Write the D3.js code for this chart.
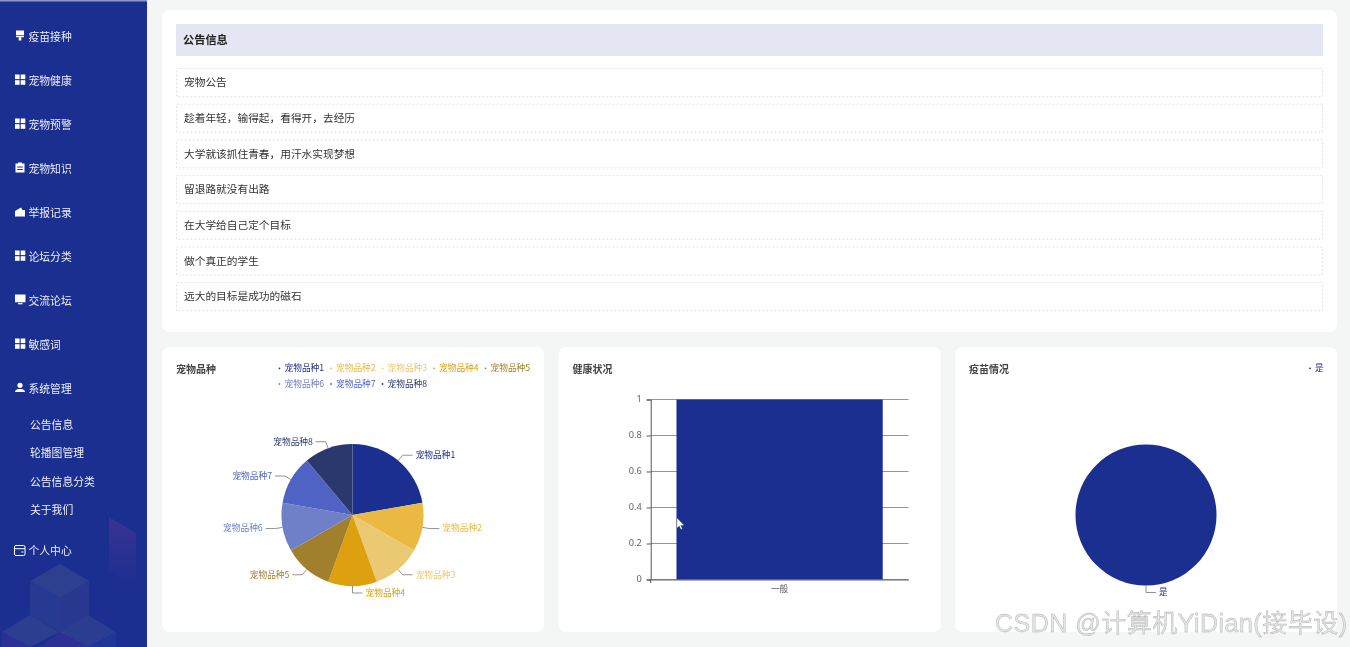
<!DOCTYPE html>
<html>
<head>
<meta charset="utf-8">
<script src="https://cdn.jsdelivr.net/npm/d3@7"></script>
<style>
html, body { margin: 0; padding: 0; background: #f4f6f6; overflow: hidden; }
svg { display: block; }
text { font-family: "Noto Sans CJK SC", "Noto Sans", sans-serif; }
</style>
</head>
<body>
<div id="page"></div>
<script>
// === DATA ===
const menuLabels = ["疫苗接种", "宠物健康", "宠物预警", "宠物知识", "举报记录", "论坛分类", "交流论坛", "敏感词", "系统管理"];
const menuIcons = ["brush", "grid", "grid", "clip", "wallet", "grid", "screen", "grid", "user"];
const subMenuLabels = ["公告信息", "轮播图管理", "公告信息分类", "关于我们"];
const noticeTitle = "公告信息";
const noticeRows = ["宠物公告", "趁着年轻，输得起，看得开，去经历", "大学就该抓住青春，用汗水实现梦想", "留退路就没有出路", "在大学给自己定个目标", "做个真正的学生", "远大的目标是成功的磁石"];

const breedNames = ["宠物品种1", "宠物品种2", "宠物品种3", "宠物品种4", "宠物品种5", "宠物品种6", "宠物品种7", "宠物品种8"];
const breedValues = [2, 1, 1, 1, 1, 1, 1, 1];
const breedColors = ["#1a2f90", "#ebb942", "#ebc973", "#dda00e", "#a27f2d", "#6f80c9", "#4f63c5", "#2b386d"];

const healthNames = ["一般"];
const healthValues = [1];
const healthTicks = [0, 0.2, 0.4, 0.6, 0.8, 1];

const vaccineNames = ["是"];
const vaccineValues = [1];

const W = 1350, H = 647;
const navy = "#1a2f90";

const svg = d3.select("#page").append("svg")
    .attr("width", W)
    .attr("height", H)
    .style("filter", "blur(0.4px)");

svg.append("rect").attr("width", W).attr("height", H).attr("fill", "#f4f6f6");

// === SIDEBAR ===
const defs = svg.append("defs");
const pillarGrad = defs.append("linearGradient")
    .attr("id", "pillar-grad")
    .attr("x1", 0).attr("y1", 0).attr("x2", 0).attr("y2", 1);
pillarGrad.append("stop").attr("offset", "0%").attr("stop-color", "#4f3596").attr("stop-opacity", 0.6);
pillarGrad.append("stop").attr("offset", "100%").attr("stop-color", "#4f3596").attr("stop-opacity", 0.03);

svg.append("rect").attr("width", 147).attr("height", H).attr("fill", navy);
svg.append("rect").attr("width", 147).attr("height", 1.5).attr("fill", "#8d97c4");

// background cubes
const decor = svg.append("g");
decor.append("polygon")
    .attr("points", "109,517 136,533 136,585 109,570")
    .attr("fill", "url(#pillar-grad)");
[
    ["60,564 89,581 60,598 30,581", "#2d408f"],
    ["30,581 60,598 60,632 30,615", "#263a91"],
    ["60,598 89,581 89,615 60,632", "#283891"],
    ["30,615 59,632 30,647 2,632", "#2b3e90"],
    ["88,615 116,632 88,647 59,632", "#2a3d91"],
    ["2,632 30,647 2,647", "#2c3096"],
    ["59,632 88,647 40,647", "#2c3094"],
    ["88,647 116,632 116,647", "#1f3699"]
].forEach(d => {
    decor.append("polygon").attr("points", d[0]).attr("fill", d[1]);
});

function drawIcon(type, x, y) {
    const g = svg.append("g").attr("transform", `translate(${x},${y})`).attr("fill", "#fff");
    if (type === "grid") {
        [[0, 0], [5.7, 0], [0, 5.7], [5.7, 5.7]].forEach(p => {
            g.append("rect").attr("x", p[0]).attr("y", p[1]).attr("width", 4.6).attr("height", 4.6);
        });
    } else if (type === "brush") {
        g.append("rect").attr("x", 1).attr("width", 8).attr("height", 4.5);
        g.append("rect").attr("x", 1).attr("y", 5.2).attr("width", 8).attr("height", 1.5);
        g.append("rect").attr("x", 3.7).attr("y", 6.7).attr("width", 2.6).attr("height", 3.3);
    } else if (type === "clip") {
        g.append("path").attr("fill-rule", "evenodd")
            .attr("d", "M0.5,1H3V0H7V1H9.5V10H0.5ZM2.2,4V5H7.8V4ZM2.2,6.5V7.5H7.8V6.5Z");
    } else if (type === "wallet") {
        g.append("path").attr("d", "M0,4.5L6,1L7.5,3.5H10V10H0Z");
    } else if (type === "screen") {
        g.append("rect").attr("width", 10.5).attr("height", 7.8);
        g.append("rect").attr("x", 3).attr("y", 8.6).attr("width", 4.5).attr("height", 1.2);
    } else if (type === "user") {
        g.append("circle").attr("cx", 5).attr("cy", 2.8).attr("r", 2.6);
        g.append("path").attr("d", "M0,9.5C0,7 3,6.5 5,6.5C7,6.5 10,7 10,9.5Z");
    } else if (type === "card") {
        g.append("rect").attr("x", 0.5).attr("y", 0.5).attr("width", 10.5).attr("height", 10).attr("rx", 1.5)
            .attr("fill", "none").attr("stroke", "#fff").attr("stroke-width", 1);
        g.append("rect").attr("x", 1).attr("y", 3.2).attr("width", 10).attr("height", 1);
        g.append("rect").attr("x", 7.5).attr("y", 6.5).attr("width", 2).attr("height", 1);
    }
}

const sideText = (txt, x, y) => svg.append("text")
    .attr("x", x).attr("y", y)
    .attr("dominant-baseline", "central")
    .attr("font-size", "10.8px")
    .attr("fill", "#fff")
    .attr("fill-opacity", 0.92)
    .text(txt);

menuLabels.forEach((label, i) => {
    const y = 35.5 + i * 44;
    drawIcon(menuIcons[i], 15, y - 5);
    sideText(label, 28.5, y);
});
subMenuLabels.forEach((label, i) => {
    sideText(label, 30, 423.7 + i * 28.5);
});
drawIcon("card", 14, 545);
sideText("个人中心", 28.5, 549.7);

// === CARDS ===
const card = (x, y, w, h) => svg.append("rect")
    .attr("x", x).attr("y", y).attr("width", w).attr("height", h)
    .attr("rx", 8).attr("fill", "#fff");

card(162, 10, 1175, 322);
card(162, 347, 382, 285);
card(558.5, 347, 382.5, 285);
card(955, 347, 382, 285);

// === NOTICE LIST ===
svg.append("rect").attr("x", 176).attr("y", 24).attr("width", 1147).attr("height", 32).attr("fill", "#e5e6f4");
svg.append("text")
    .attr("x", 183).attr("y", 39.3)
    .attr("dominant-baseline", "central")
    .attr("font-size", "11.2px")
    .attr("font-weight", "bold")
    .attr("fill", "#222")
    .text(noticeTitle);

noticeRows.forEach((row, i) => {
    const y = 68.5 + i * 35.7;
    svg.append("rect")
        .attr("x", 176.5).attr("y", y).attr("width", 1146).attr("height", 28)
        .attr("fill", "#fff")
        .attr("stroke", "#e2e2e2")
        .attr("stroke-dasharray", "2,2");
    svg.append("text")
        .attr("x", 184).attr("y", y + 13.2)
        .attr("dominant-baseline", "central")
        .attr("font-size", "10.7px")
        .attr("fill", "#333")
        .text(row);
});

// === CHART TITLES ===
[["宠物品种", 176], ["健康状况", 572.5], ["疫苗情况", 969]].forEach(d => {
    svg.append("text")
        .attr("x", d[1]).attr("y", 368.5)
        .attr("dominant-baseline", "central")
        .attr("font-size", "10px")
        .attr("font-weight", "bold")
        .attr("fill", "#444")
        .text(d[0]);
});

// === PIE HELPER ===
function drawPie(cx, cy, r, names, values, colors) {
    const g = svg.append("g").attr("transform", `translate(${cx},${cy})`);
    const pie = d3.pie().sort(null)(values);
    const arc = d3.arc().innerRadius(0).outerRadius(r);

    g.selectAll("path.slice")
        .data(pie)
        .join("path")
        .attr("class", "slice")
        .attr("d", arc)
        .attr("fill", (d, i) => colors[i]);

    pie.forEach((d, i) => {
        const mid = (d.startAngle + d.endAngle) / 2;
        const sx = Math.sin(mid), sy = -Math.cos(mid);
        const right = sx >= -1e-6;
        const p0 = [sx * r, sy * r];
        const p1 = [sx * (r + 7), sy * (r + 7)];
        const p2 = [p1[0] + (right ? 10 : -10), p1[1]];
        g.append("polyline")
            .attr("points", [p0, p1, p2].map(p => p.join(",")).join(" "))
            .attr("fill", "none")
            .attr("stroke", "#777")
            .attr("stroke-width", 0.8);
        g.append("text")
            .attr("x", p2[0] + (right ? 3 : -3))
            .attr("y", p2[1] - 0.6)
            .attr("text-anchor", right ? "start" : "end")
            .attr("dominant-baseline", "central")
            .attr("font-size", "8.7px")
            .attr("fill", colors[i])
            .text(names[i]);
    });
}

function drawLegend(items, colors, x0, y0, perRow, stepX, stepY) {
    items.forEach((name, i) => {
        const x = x0 + (i % perRow) * stepX;
        const y = y0 + Math.floor(i / perRow) * stepY;
        svg.append("circle").attr("cx", x).attr("cy", y).attr("r", 0.9).attr("fill", colors[i]);
        svg.append("text")
            .attr("x", x + 5).attr("y", y - 0.6)
            .attr("dominant-baseline", "central")
            .attr("font-size", "8.7px")
            .attr("fill", colors[i])
            .text(name);
    });
}

// === BREED PIE ===
drawLegend(breedNames, breedColors, 279.5, 368.3, 5, 51.5, 15.7);
drawPie(352.5, 515, 71, breedNames, breedValues, breedColors);

// === HEALTH BAR ===
const x = d3.scaleBand().domain(healthNames).range([650.7, 908.5]).padding(1 / 9);
const y = d3.scaleLinear().domain([0, 1]).range([579.5, 399.5]);

const gridG = svg.append("g");
gridG.selectAll("line")
    .data(healthTicks)
    .join("line")
    .attr("x1", x.range()[0])
    .attr("x2", x.range()[1])
    .attr("y1", d => y(d))
    .attr("y2", d => y(d))
    .attr("stroke", "#8a8a8a")
    .attr("stroke-width", 0.9);

svg.selectAll("rect.bar")
    .data(healthValues)
    .join("rect")
    .attr("class", "bar")
    .attr("x", (d, i) => x(healthNames[i]))
    .attr("y", d => y(d))
    .attr("width", x.bandwidth())
    .attr("height", d => y(0) - y(d))
    .attr("fill", navy);

const yAxis = svg.append("g")
    .attr("transform", `translate(${x.range()[0]},0)`)
    .call(d3.axisLeft(y).tickValues(healthTicks).tickFormat(d => d).tickSize(4).tickPadding(5));
const xAxis = svg.append("g")
    .attr("transform", `translate(0,${y(0)})`)
    .call(d3.axisBottom(x).tickSize(0).tickPadding(6));

yAxis.selectAll("text").attr("font-size", "9.2px").attr("fill", "#666").attr("dy", "0.25em").style("font-family", '"Noto Sans", sans-serif');
xAxis.selectAll("text").attr("font-size", "8.7px").attr("fill", "#555");
yAxis.selectAll("line").attr("stroke", "#555");
yAxis.select(".domain").attr("stroke", "#555");
xAxis.select(".domain").attr("stroke", "#666");

// bottom axis start tick
svg.append("line")
    .attr("x1", x.range()[0]).attr("x2", x.range()[0])
    .attr("y1", y(0)).attr("y2", y(0) + 3.5)
    .attr("stroke", "#555");

// mouse pointer from the screenshot
svg.append("path")
    .attr("d", "M677,518L677,528L679.3,526L681,529.5L682.3,528.8L680.7,525.4L684,525.2Z")
    .attr("fill", "#fff")
    .attr("stroke", "#555")
    .attr("stroke-width", 0.3);

// === VACCINE PIE ===
drawLegend(vaccineNames, [navy], 1310, 368.3, 1, 0, 0);
drawPie(1146, 515, 70.5, vaccineNames, vaccineValues, [navy]);

// === WATERMARK ===
svg.append("text")
    .attr("x", 995).attr("y", 632)
    .attr("font-size", "25px")
    .attr("fill", "#e4e4e4")
    .attr("stroke", "#b0b0b0")
    .attr("stroke-width", 0.4)
    .attr("textLength", 352)
    .style("font-family", '"Liberation Sans", "Noto Sans CJK SC", sans-serif')
    .text("CSDN @计算机YiDian(接毕设)");
</script>
</body>
</html>
